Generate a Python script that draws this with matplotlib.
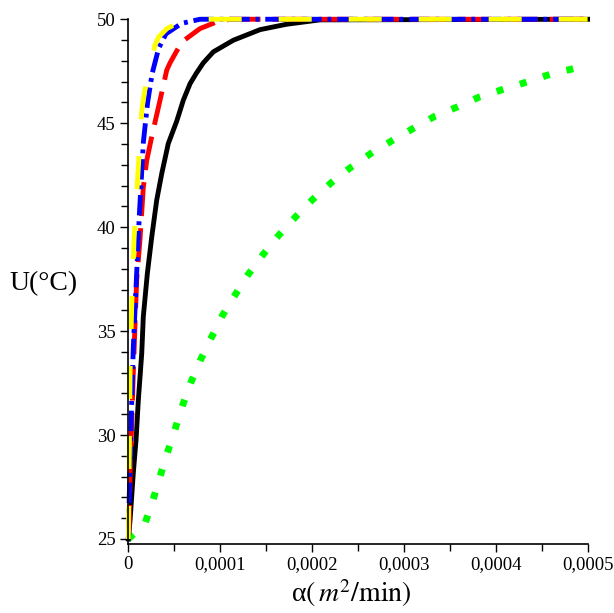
import matplotlib
matplotlib.use("Agg")
import matplotlib.pyplot as plt
from matplotlib.ticker import MultipleLocator, FixedLocator

plt.rcParams["font.family"] = ["Liberation Serif", "DejaVu Serif"]
plt.rcParams["mathtext.fontset"] = "stix"

# temperature U (°C) against thermal diffusivity alpha (m^2/min)
alpha_black = [0, 0.0000019, 0.0000054, 0.0000084, 0.0000109, 0.0000146, 0.0000163,
               0.0000207, 0.0000255, 0.0000309, 0.0000364, 0.0000435, 0.0000527,
               0.0000599, 0.0000672, 0.0000740, 0.0000816, 0.0000925, 0.0001143,
               0.0001434, 0.0001724, 0.0002087, 0.0005]
u_black = [25, 25.9, 28.16, 29.76, 31.68, 33.93, 35.69, 37.77, 39.53, 41.3, 42.58,
           44.02, 45.1, 46.11, 46.9, 47.4, 47.9, 48.43, 48.99, 49.5, 49.76, 49.97, 50]

alpha_red = [0, 0.0000011, 0.0000019, 0.0000037, 0.0000054, 0.0000073, 0.0000091,
             0.0000127, 0.0000163, 0.00002, 0.0000262, 0.0000345, 0.0000418,
             0.0000454, 0.0000581, 0.000078, 0.000095, 0.0001107, 0.0005]
u_red = [25, 25.77, 28.17, 30.56, 32.97, 35.37, 37.45, 39.4, 41.9, 43.2, 44.5, 46.1,
         47.55, 47.9, 48.9, 49.55, 49.85, 50, 50]

alpha_blue = [0, 0.000002, 0.0000054, 0.0000091, 0.000012, 0.0000164, 0.000021,
              0.000026, 0.000033, 0.000041, 0.000058, 0.000078, 0.0005]
u_blue = [25, 29.0, 34.2, 37.8, 40.6, 44.1, 46.0, 47.4, 48.6, 49.3, 49.8, 50, 50]

alpha_yellow = [0, 0.0000011, 0.0000019, 0.0000037, 0.0000062, 0.0000109, 0.0000146,
                0.000018, 0.000029, 0.000033, 0.000042, 0.000053, 0.000065, 0.0005]
u_yellow = [25, 29.3, 33.0, 36.2, 39.4, 42.9, 45.6, 46.6, 48.75, 49.15, 49.55, 49.8,
            50, 50]

alpha_green = [0, 0.0000182, 0.0000266, 0.0000345, 0.0000425, 0.0000508, 0.0000588,
               0.0000679, 0.0000781, 0.00009, 0.0001023, 0.0001161, 0.0001306,
               0.000147, 0.000164, 0.0001822, 0.0002007, 0.0002207, 0.0002414,
               0.0002639, 0.0002867, 0.0003102, 0.0003339, 0.0003581, 0.0003821,
               0.0004082, 0.0004337, 0.0004598, 0.0004852, 0.0005]
u_green = [25, 25.75, 26.84, 28.0, 29.15, 30.27, 31.39, 32.51, 33.57, 34.65, 35.74,
           36.73, 37.73, 38.7, 39.62, 40.5, 41.33, 42.13, 42.85, 43.54, 44.15, 44.75,
           45.34, 45.78, 46.26, 46.63, 46.98, 47.36, 47.63, 47.8]

x_ticks = [0, 0.0001, 0.0002, 0.0003, 0.0004, 0.0005]
x_tick_labels = ["0", "0,0001", "0,0002", "0,0003", "0,0004", "0,0005"]

fig = plt.figure(figsize=(6.14, 6.13), dpi=100)
ax = fig.add_axes([0.209, 0.1126, 0.748, 0.856])

lw = 3.5
ax.plot(alpha_green, u_green, color="#00ff00", lw=5, linestyle=(0, (1, 2.5)),
        dash_capstyle="butt", clip_on=False)
ax.plot(alpha_black, u_black, color="black", lw=lw, clip_on=False)
ax.plot(alpha_red, u_red, color="red", lw=lw, linestyle=(0, (7.0, 2.5)),
        dash_capstyle="butt", clip_on=False)
ax.plot(alpha_blue, u_blue, color="blue", lw=lw, linestyle=(0, (4.2, 1.2, 0.8, 1.2)),
        dash_capstyle="butt", clip_on=False)
ax.plot(alpha_yellow, u_yellow, color="yellow", lw=lw, linestyle=(0, (6.8, 7.6)),
        dash_capstyle="butt", clip_on=False)

ax.set_xlim(0, 0.0005)
ax.set_ylim(24.76, 50)

ax.spines["top"].set_visible(False)
ax.spines["right"].set_visible(False)
ax.spines["left"].set_linewidth(1.2)
ax.spines["bottom"].set_linewidth(1.2)
ax.spines["left"].set_bounds(24.76, 50)

ax.xaxis.set_major_locator(FixedLocator(x_ticks))
ax.set_xticklabels(x_tick_labels)
ax.xaxis.set_minor_locator(MultipleLocator(0.00005))
ax.yaxis.set_major_locator(FixedLocator([25, 30, 35, 40, 45, 50]))
ax.yaxis.set_minor_locator(MultipleLocator(1))
ax.tick_params(which="major", direction="out", length=6, width=1, labelsize=13.5, pad=3)
ax.tick_params(which="minor", direction="out", length=5, width=1)

fig.text(0.016, 0.5375, "U(°C)", fontsize=20, ha="left", va="center")
# upright alpha followed by the unit in math text
fig.text(0.5725, 0.006, r"α$\left(\,m^{2}/\mathrm{min}\right)$", fontsize=20,
         ha="center", va="bottom")

fig.savefig("out.png", dpi=100)
